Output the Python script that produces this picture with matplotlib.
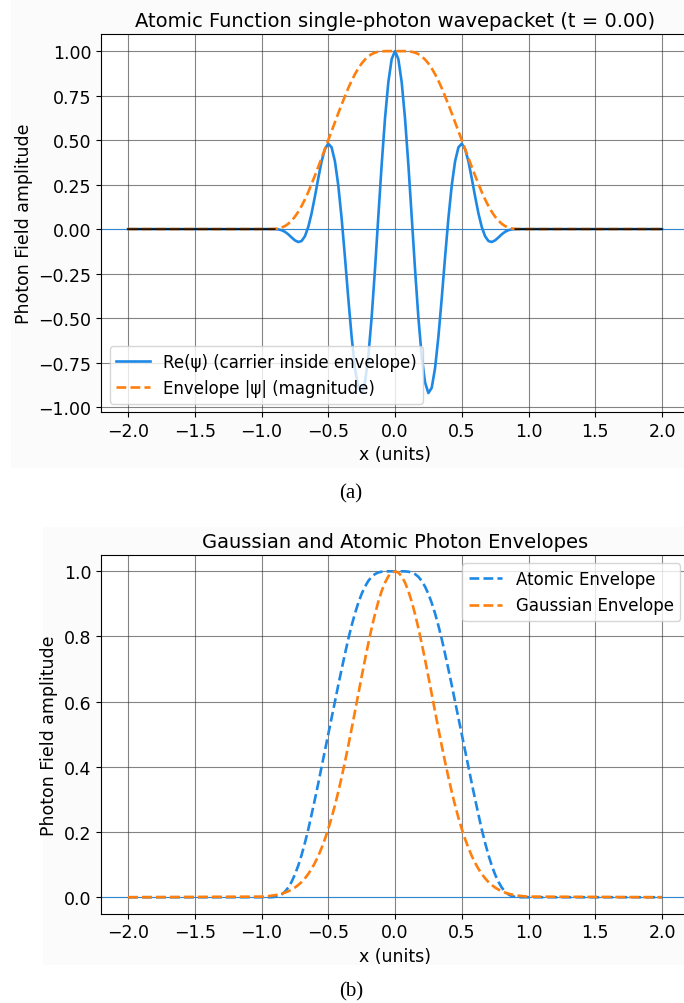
import numpy as np
import matplotlib.pyplot as plt
from matplotlib.patches import Rectangle

# values on x = 0, 0.025, ..., 1.0 (curves are even in x, left side is mirrored)
atomic_env_half = [1.0, 1.0, 1.0, 0.9998, 0.9988, 0.9965, 0.9915, 0.9832, 0.9705, 0.9529,
                   0.9306, 0.9031, 0.8707, 0.8334, 0.7924, 0.7465, 0.6993, 0.6508, 0.6001, 0.5502,
                   0.5, 0.4498, 0.3999, 0.3492, 0.3007, 0.2535, 0.2076, 0.1666, 0.1293, 0.0969,
                   0.0694, 0.0471, 0.0295, 0.0168, 0.0085, 0.0035, 0.0012, 0.0002, 0.0, 0.0, 0.0]

re_psi_half = [1.0, 0.9553, 0.8253, 0.6215, 0.3620, 0.0705, -0.2253, -0.4963, -0.7156, -0.8615,
               -0.9213, -0.8918, -0.7808, -0.6050, -0.3885, -0.1574, 0.0612, 0.2460, 0.3809, 0.4593,
               0.4801, 0.4497, 0.3800, 0.2848, 0.1829, 0.0879, 0.0112, -0.0406, -0.0671, -0.0725,
               -0.0632, -0.0467, -0.0290, -0.0149, -0.0061, -0.0017, -0.0002, 0.0, 0.0, 0.0, 0.0]

gauss_env_half = [1.0, 0.9961, 0.9845, 0.9654, 0.9394, 0.9070, 0.8688, 0.8258, 0.7788, 0.7288,
                  0.6767, 0.6233, 0.5698, 0.5168, 0.4650, 0.4153, 0.3679, 0.3234, 0.2821, 0.2441,
                  0.2096, 0.1786, 0.1510, 0.1266, 0.1054, 0.0871, 0.0713, 0.0580, 0.0468, 0.0374,
                  0.0297, 0.0234, 0.0183, 0.0142, 0.0109, 0.0084, 0.0063, 0.0048, 0.0036, 0.0026, 0.0019]

x_ticks = [-2.0, -1.5, -1.0, -0.5, 0.0, 0.5, 1.0, 1.5, 2.0]
y_ticks_a = [-1.0, -0.75, -0.5, -0.25, 0.0, 0.25, 0.5, 0.75, 1.0]
y_ticks_b = [0.0, 0.2, 0.4, 0.6, 0.8, 1.0]


def full(half):
    # mirror to negative x and add the flat tails at x = +/-2
    half = np.asarray(half)
    return np.concatenate([[0.0], half[:0:-1], half, [0.0]])


x = np.concatenate([[-2.0], np.linspace(-1, 1, 81), [2.0]])
env = full(atomic_env_half)
re_psi = full(re_psi_half)
gauss = full(gauss_env_half)

BLUE = '#1e88e5'
ORANGE = '#ff7f0e'

plt.rcParams['font.family'] = 'DejaVu Sans'
plt.rcParams['font.size'] = 12.5
plt.rcParams['legend.fontsize'] = 12

fig = plt.figure(figsize=(6.84, 10.04), dpi=100)

# light panel behind each plot
for rect in [(0.016, 0.533, 0.984, 0.467), (0.063, 0.038, 0.937, 0.436)]:
    fig.add_artist(Rectangle(rect[:2], rect[2], rect[3], transform=fig.transFigure,
                             facecolor='#fbfbfb', edgecolor='none', zorder=-10))

ax1 = fig.add_axes([0.1481, 0.5886, 0.8588, 0.3765])
ax2 = fig.add_axes([0.1481, 0.0891, 0.8588, 0.3571])

# (a) carrier inside the atomic envelope
ax1.axhline(0, color=BLUE, lw=0.8, alpha=0.8)
ax1.plot(x, re_psi, color=BLUE, lw=1.9, label='Re(ψ) (carrier inside envelope)')
ax1.plot(x, env, color=ORANGE, lw=1.9, ls='--', label='Envelope |ψ| (magnitude)')
tail = np.where(np.abs(x) >= 0.9, re_psi, np.nan)
ax1.plot(x, tail, color='k', lw=1.1)
ax1.set_xlim(-2.2, 2.2)
ax1.set_ylim(-1.028, 1.096)
ax1.set_xticks(x_ticks)
ax1.set_yticks(y_ticks_a)
ax1.set_title('Atomic Function single-photon wavepacket (t = 0.00)', fontsize=14)
ax1.set_xlabel('x (units)')
ax1.set_ylabel('Photon Field amplitude')
ax1.grid(True, color='0.2', alpha=0.6, lw=0.8)
ax1.legend(loc='lower left')

# (b) atomic vs gaussian envelope
ax2.axhline(0, color=BLUE, lw=0.8, alpha=0.8)
ax2.plot(x, env, color=BLUE, lw=1.9, ls='--', label='Atomic Envelope')
ax2.plot(x, gauss, color=ORANGE, lw=1.9, ls='--', label='Gaussian Envelope')
ax2.set_xlim(-2.2, 2.2)
ax2.set_ylim(-0.05, 1.05)
ax2.set_xticks(x_ticks)
ax2.set_yticks(y_ticks_b)
ax2.set_title('Gaussian and Atomic Photon Envelopes', fontsize=14)
ax2.set_xlabel('x (units)')
ax2.set_ylabel('Photon Field amplitude')
ax2.grid(True, color='0.2', alpha=0.6, lw=0.8)
ax2.legend(loc='upper right')

fig.text(0.513, 1 - 494 / 1004, '(a)', ha='center', va='center',
         family='Liberation Serif', fontsize=15)
fig.text(0.513, 1 - 992 / 1004, '(b)', ha='center', va='center',
         family='Liberation Serif', fontsize=15)

fig.savefig('out.png', dpi=100)
